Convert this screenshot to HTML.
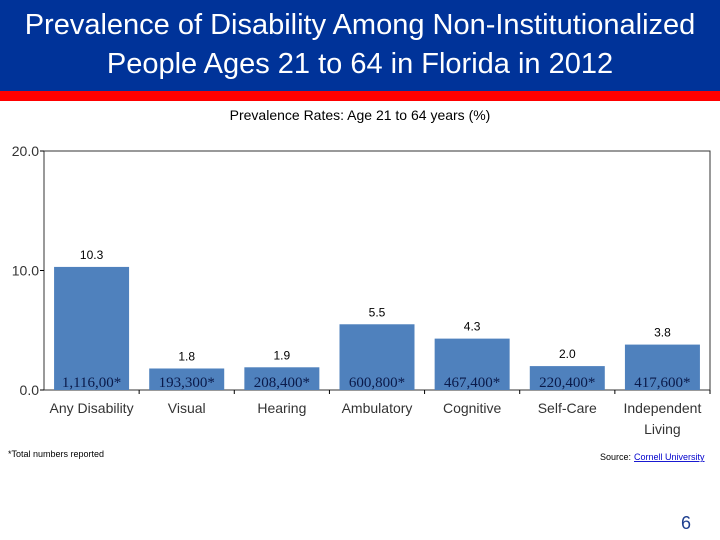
<!DOCTYPE html>
<html><head><meta charset="utf-8"><style>
body{margin:0;width:720px;height:540px;background:#fff;overflow:hidden;font-family:"Liberation Sans",sans-serif;position:relative}
#hdr{position:absolute;left:0;top:0;width:720px;height:91px;background:#003399}
#red{position:absolute;left:0;top:91px;width:720px;height:10px;background:#ff0000}
#title{position:absolute;left:0;top:6px;width:720px;text-align:center;color:#fff;font-size:29px;line-height:39px}
</style></head><body>
<div id="hdr"></div>
<div id="red"></div>
<div id="title">Prevalence of Disability Among Non-Institutionalized<br>People Ages 21 to 64 in Florida in 2012</div>
<svg id="chart" width="720" height="540" style="position:absolute;left:0;top:0"></svg>
<script>
const categories=["Any Disability","Visual","Hearing","Ambulatory","Cognitive","Self-Care","Independent Living"];
const values=[10.3,1.8,1.9,5.5,4.3,2.0,3.8];
const counts=["1,116,00*","193,300*","208,400*","600,800*","467,400*","220,400*","417,600*"];
const yTicks=[0,10,20];
const svg=document.getElementById('chart');
const NS='http://www.w3.org/2000/svg';
const L=44,R=710,T=151,B=390,ymax=20;
const y=v=>B-(v/ymax)*(B-T);
const bw=(R-L)/categories.length;
const x=i=>L+bw*(i+0.5);
function mk(t,a,txt){const e=document.createElementNS(NS,t);for(const k in a)e.setAttribute(k,a[k]);if(txt!=null)e.textContent=txt;svg.appendChild(e);return e;}
let e=mk('text',{x:360,y:120,'text-anchor':'middle','font-size':14,fill:'#000'},'Prevalence Rates: Age 21 to 64 years (%)');


e=mk('rect',{x:L,y:T,width:R-L,height:B-T,fill:'none',stroke:'#333','stroke-width':1});


yTicks.forEach(t=>{
 let l=mk('line',{x1:L-4,x2:L,y1:y(t),y2:y(t),stroke:'#000'});
 
 
 let tx=mk('text',{x:L-5,y:y(t)+5,'text-anchor':'end','font-size':14,fill:'#333'},t.toFixed(1));
 
 
});
categories.forEach((c,i)=>{
 let r=mk('rect',{x:x(i)-37.5,y:y(values[i]),width:75,height:B-y(values[i]),fill:'#4f81bd'});
 
 
 let vl=mk('text',{x:x(i),y:y(values[i])-8,'text-anchor':'middle','font-size':12,fill:'#000'},values[i].toFixed(1));
 
 
 let cl=mk('text',{x:x(i),y:B-3,'text-anchor':'middle','font-size':15,'font-family':'Liberation Serif,serif',fill:'#0a1a4a'},counts[i]);
 
 
 let tk=mk('line',{x1:L+bw*(i+1),x2:L+bw*(i+1),y1:B,y2:B+4,stroke:'#000'});
 
 
 const parts=c==="Independent Living"?["Independent","Living"]:[c];
 parts.forEach((p,j)=>{
  let t=mk('text',{x:x(i),y:413+j*21,'text-anchor':'middle','font-size':14,fill:'#333'},p);
  
  
 });
});
e=mk('text',{x:8,y:457,'font-size':9,fill:'#000'},'*Total numbers reported');


e=mk('text',{x:600,y:460,'font-size':9,fill:'#000'},'Source: ');


e=mk('text',{x:634,y:460,'font-size':9,fill:'#0000cc','text-decoration':'underline'},'Cornell University');


e=mk('text',{x:686,y:529,'text-anchor':'middle','font-size':18,fill:'#1f3f8f'},'6');


</script>
</body></html>
